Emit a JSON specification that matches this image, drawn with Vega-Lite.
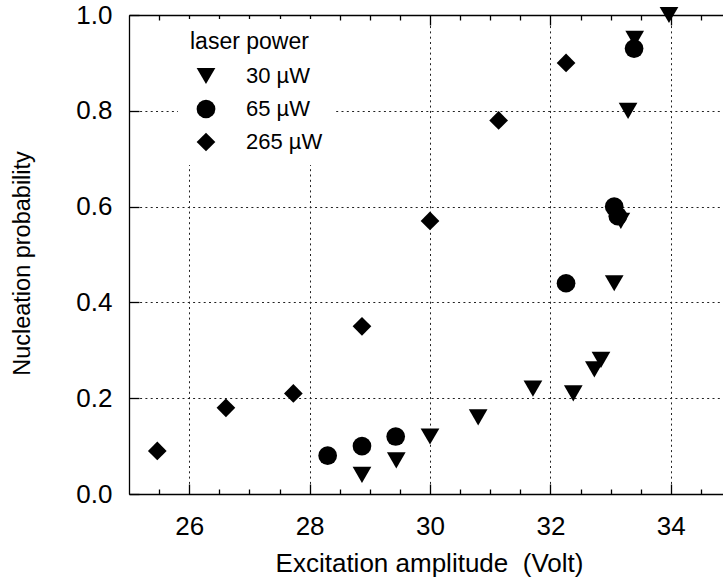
{
  "$schema": "https://vega.github.io/schema/vega-lite/v6.json",
  "width": 594,
  "height": 479,
  "autosize": "none",
  "padding": {"left": 129, "top": 15, "right": 0, "bottom": 86},
  "background": "white",
  "data": {
    "values": [
      {"amp": 33.97, "prob": 1.0, "power": "30 µW"},
      {"amp": 33.40, "prob": 0.95, "power": "30 µW"},
      {"amp": 33.29, "prob": 0.80, "power": "30 µW"},
      {"amp": 33.17, "prob": 0.57, "power": "30 µW"},
      {"amp": 33.06, "prob": 0.44, "power": "30 µW"},
      {"amp": 32.84, "prob": 0.28, "power": "30 µW"},
      {"amp": 32.73, "prob": 0.26, "power": "30 µW"},
      {"amp": 32.38, "prob": 0.21, "power": "30 µW"},
      {"amp": 31.71, "prob": 0.22, "power": "30 µW"},
      {"amp": 30.80, "prob": 0.16, "power": "30 µW"},
      {"amp": 30.00, "prob": 0.12, "power": "30 µW"},
      {"amp": 29.44, "prob": 0.07, "power": "30 µW"},
      {"amp": 28.87, "prob": 0.04, "power": "30 µW"},
      {"amp": 33.39, "prob": 0.93, "power": "65 µW"},
      {"amp": 33.06, "prob": 0.60, "power": "65 µW"},
      {"amp": 33.12, "prob": 0.58, "power": "65 µW"},
      {"amp": 32.26, "prob": 0.44, "power": "65 µW"},
      {"amp": 28.30, "prob": 0.08, "power": "65 µW"},
      {"amp": 28.87, "prob": 0.10, "power": "65 µW"},
      {"amp": 29.43, "prob": 0.12, "power": "65 µW"},
      {"amp": 25.47, "prob": 0.09, "power": "265 µW"},
      {"amp": 26.61, "prob": 0.18, "power": "265 µW"},
      {"amp": 27.73, "prob": 0.21, "power": "265 µW"},
      {"amp": 28.87, "prob": 0.35, "power": "265 µW"},
      {"amp": 30.00, "prob": 0.57, "power": "265 µW"},
      {"amp": 31.14, "prob": 0.78, "power": "265 µW"},
      {"amp": 32.26, "prob": 0.90, "power": "265 µW"}
    ]
  },
  "layer": [
    {
      "mark": {"type": "point", "filled": true, "size": 350, "opacity": 1, "color": "black", "strokeWidth": 0},
      "encoding": {
        "x": {
          "field": "amp", "type": "quantitative",
          "scale": {"domain": [25, 34.867], "nice": false, "zero": false},
          "axis": {
            "orient": "bottom",
            "title": "Excitation amplitude \u00a0(Volt)",
            "values": [25.5, 26, 26.5, 27, 27.5, 28, 28.5, 29, 29.5, 30, 30.5, 31, 31.5, 32, 32.5, 33, 33.5, 34, 34.5],
            "format": ".0f",
            "labelExpr": "datum.value % 2 === 0 ? datum.label : ''",
            "labelOverlap": false,
            "labelBound": false,
            "labelFlush": false,
            "tickSize": {"condition": {"test": "datum.value % 2 === 0", "value": -10}, "value": -5},
            "labelPadding": 29,
            "grid": true,
            "gridOpacity": {"condition": {"test": "datum.value % 2 === 0", "value": 1}, "value": 0},
            "titleX": 300,
            "titleY": 56,
            "titleBaseline": "top",
            "titleAnchor": null
          }
        },
        "y": {
          "field": "prob", "type": "quantitative",
          "scale": {"domain": [0, 1], "nice": false},
          "axis": {
            "title": "Nucleation probability",
            "values": [0, 0.2, 0.4, 0.6, 0.8, 1.0],
            "format": ".1f",
            "tickSize": -10,
            "labelPadding": 27,
            "grid": true,
            "titleX": -95,
            "titleY": 248,
            "titleFontSize": 23.5,
            "titleBaseline": "bottom"
          }
        },
        "shape": {
          "field": "power", "type": "nominal",
          "scale": {"domain": ["30 µW", "65 µW", "265 µW"], "range": ["triangle-down", "circle", "diamond"]},
          "legend": {
            "title": "laser power",
            "orient": "none",
            "legendX": 49,
            "legendY": 4,
            "fillColor": "white",
            "padding": 12,
            "titleFontSize": 23,
            "titleFontWeight": "normal",
            "titleColor": "black",
            "titlePadding": 11,
            "labelFontSize": 22,
            "labelColor": "black",
            "labelOffset": 29,
            "symbolSize": 350,
            "symbolFillColor": "black",
            "symbolStrokeWidth": 0,
            "symbolOffset": 5,
            "rowPadding": 11
          }
        }
      }
    },
    {
      "mark": {"type": "point", "opacity": 0},
      "encoding": {
        "x": {
          "field": "amp", "type": "quantitative",
          "axis": {
            "orient": "top",
            "title": null,
            "values": [25.5, 26, 26.5, 27, 27.5, 28, 28.5, 29, 29.5, 30, 30.5, 31, 31.5, 32, 32.5, 33, 33.5, 34, 34.5],
            "labels": false,
            "grid": false,
            "tickSize": {"condition": {"test": "datum.value % 2 === 0", "value": -10}, "value": -5}
          }
        }
      }
    }
  ],
  "resolve": {"axis": {"x": "independent"}},
  "config": {
    "view": {"stroke": null},
    "font": "Liberation Sans",
    "axis": {
      "labelFont": "Liberation Sans",
      "titleFont": "Liberation Sans",
      "labelFontSize": 26,
      "titleFontSize": 26,
      "titleFontWeight": "normal",
      "labelColor": "black",
      "titleColor": "black",
      "domainColor": "black",
      "domainWidth": 1.3,
      "tickColor": "black",
      "tickWidth": 1.3,
      "gridColor": "#222",
      "gridWidth": 1,
      "gridDash": [2, 3.3]
    },
    "legend": {
      "labelFont": "Liberation Sans",
      "titleFont": "Liberation Sans"
    }
  }
}
